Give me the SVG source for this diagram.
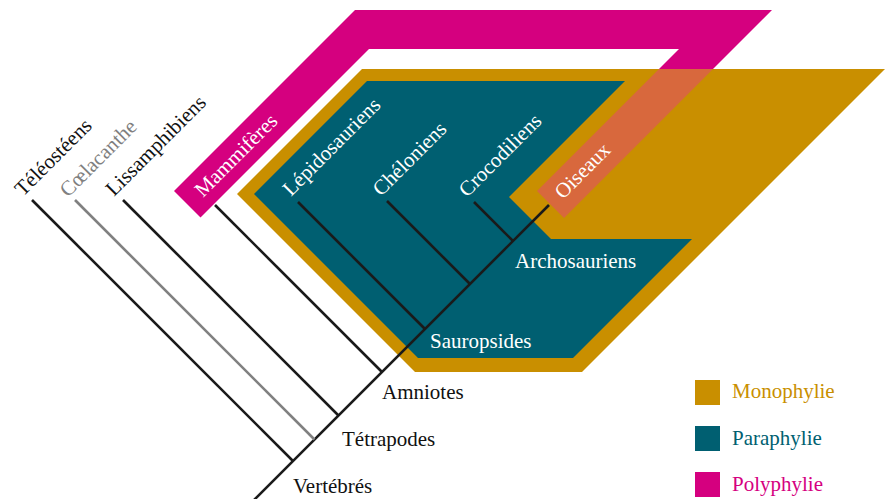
<svg xmlns="http://www.w3.org/2000/svg" width="891" height="499" viewBox="0 0 891 499">
<style>
text{font-family:"Liberation Serif","DejaVu Serif",serif;font-size:21px}
.w{fill:#fff}
.k{fill:#111}
.g{fill:#808080}
.br{stroke:#1a1a1a;stroke-width:2.6;fill:none}
.brg{stroke:#808080;stroke-width:2.6;fill:none}
.mag{fill:#d5007f}
.gold{fill:#c98f00}
.teal{fill:#005f71}
.ora{fill:#d8683d}
</style>
<g id="polyphylie"><polygon class="mag" points="174,191 355,10 772,10 564,218 537,191 679,49 369,49 200.5,217.5"/></g>
<g id="monophylie"><polygon class="gold" points="362,69 885,69 582,372 415,372 237,194"/></g>
<g id="paraphylie"><polygon class="teal" points="367,81 625,81 509,197 551,239 692,239 573,358 418,358 254,194"/></g>
<g id="overlap"><polygon class="ora" points="659,69 713,69 564,218 537,191"/></g>
<g id="connectors">
<line class="br" x1="252" y1="502" x2="549" y2="205"/>
<line class="br" x1="32" y1="200" x2="293" y2="461"/>
<line class="brg" x1="75" y1="200" x2="314.5" y2="439.5"/>
<line class="br" x1="123" y1="200" x2="338.5" y2="415.5"/>
<line class="br" x1="215" y1="205" x2="382" y2="372"/>
<line class="br" x1="298" y1="202" x2="425" y2="329"/>
<line class="br" x1="387" y1="201" x2="470" y2="284"/>
<line class="br" x1="474" y1="202" x2="513" y2="241"/>
</g>
<g id="n-teleosteens"><text class="k" transform="translate(23,197) rotate(-45)">Téléostéens</text></g>
<g id="n-coelacanthe"><text class="g" transform="translate(68,198) rotate(-45)">Cœlacanthe</text></g>
<g id="n-lissamphibiens"><text class="k" transform="translate(114,197) rotate(-45)">Lissamphibiens</text></g>
<g id="n-mammiferes"><text class="w" transform="translate(203,198) rotate(-45)">Mammifères</text></g>
<g id="n-lepidosauriens"><text class="w" transform="translate(291,197) rotate(-45)">Lépidosauriens</text></g>
<g id="n-cheloniens"><text class="w" transform="translate(381,197) rotate(-45)">Chéloniens</text></g>
<g id="n-crocodiliens"><text class="w" transform="translate(467,198) rotate(-45)">Crocodiliens</text></g>
<g id="n-oiseaux"><text class="w" transform="translate(563,200) rotate(-45)">Oiseaux</text></g>
<g id="n-archosauriens"><text class="w" x="515" y="268">Archosauriens</text></g>
<g id="n-sauropsides"><text class="w" x="430" y="348">Sauropsides</text></g>
<g id="n-amniotes"><text class="k" x="382" y="399">Amniotes</text></g>
<g id="n-tetrapodes"><text class="k" x="342" y="446">Tétrapodes</text></g>
<g id="n-vertebres"><text class="k" x="293" y="493">Vertébrés</text></g>
<g id="legend">
<rect class="gold" x="695" y="380" width="25" height="25"/>
<text x="732" y="398" fill="#c98f00">Monophylie</text>
<rect class="teal" x="695" y="426" width="25" height="25"/>
<text x="732" y="445" fill="#005f71">Paraphylie</text>
<rect class="mag" x="695" y="472" width="25" height="25"/>
<text x="732" y="491" fill="#d5007f">Polyphylie</text>
</g>
</svg>
